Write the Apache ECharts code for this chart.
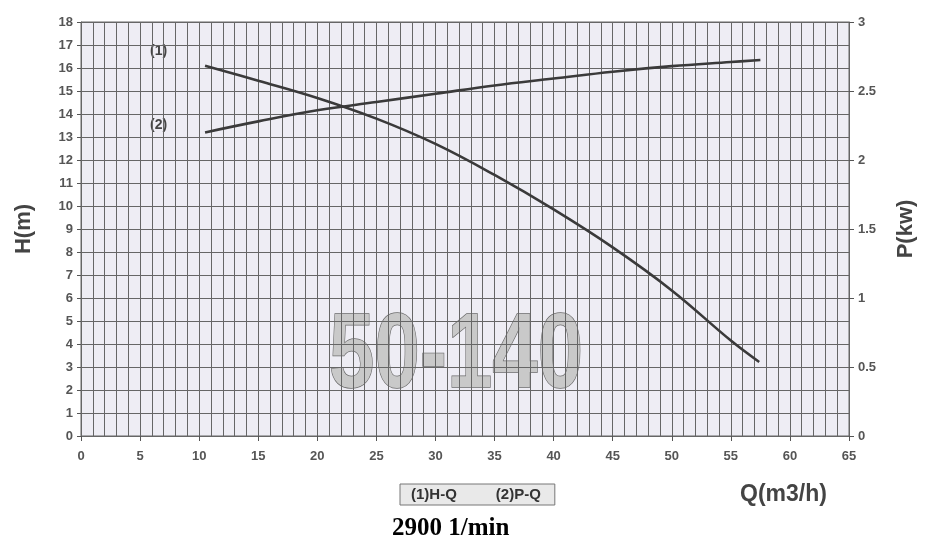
<!DOCTYPE html>
<html>
<head>
<meta charset="utf-8">
<script src="https://cdn.jsdelivr.net/npm/echarts@6/dist/echarts.min.js"></script>
<style>html,body{margin:0;padding:0;background:#fff}#c{width:925px;height:556px}</style>
</head>
<body>
<div id="c"></div>
<script>
// Data
const hqQ = [10.5, 15, 20, 25, 30, 35, 40, 45, 50, 55, 57.4];
const hqH = [16.1, 15.45, 14.7, 13.8, 12.7, 11.35, 9.85, 8.2, 6.33, 4.15, 3.22];
const pqQ = [10.5, 15, 20, 25, 30, 35, 40, 45, 50, 55, 57.5];
const pqP = [2.2, 2.28, 2.36, 2.42, 2.48, 2.54, 2.59, 2.64, 2.68, 2.71, 2.725];
const seriesNames = ['(1)H-Q', '(2)P-Q'];

const chart = echarts.init(document.getElementById('c'));
const lab = {color: '#555', fontFamily: 'Liberation Sans, Arial', fontWeight: 'bold', fontSize: 13};
const gridLine = {color: '#666', width: 1};
chart.setOption({
  animation: false,
  backgroundColor: '#fff',
  grid: {left: 81, right: 75, top: 22, bottom: 120, show: true, backgroundColor: '#eeedf4', borderColor: '#666', borderWidth: 1},
  legend: {
    data: seriesNames, left: 400, top: 484, icon: 'none', itemWidth: 0, itemGap: 34,
    padding: [3, 14, 3, 6], backgroundColor: '#e9e9e9', borderColor: '#777', borderWidth: 1, borderRadius: 0,
    textStyle: {color: '#333', fontSize: 15, fontFamily: 'Liberation Sans, Arial', fontWeight: 'bold'},
    selectedMode: false
  },
  xAxis: {
    type: 'value', min: 0, max: 65, interval: 5,
    axisLine: {show: true, onZero: false, lineStyle: {color: '#666'}},
    axisTick: {show: true, length: 5, lineStyle: {color: '#555'}},
    axisLabel: Object.assign({margin: 14}, lab),
    splitLine: {show: true, lineStyle: gridLine},
    minorTick: {show: false, splitNumber: 5},
    minorSplitLine: {show: true, lineStyle: gridLine}
  },
  yAxis: [{
    type: 'value', min: 0, max: 18, interval: 1,
    name: 'H(m)', nameLocation: 'middle', nameRotate: 90, nameGap: 46,
    nameTextStyle: {color: '#444', fontSize: 22, fontWeight: 'bold', fontFamily: 'Liberation Sans, Arial'},
    axisLine: {show: true, lineStyle: {color: '#666'}},
    axisTick: {show: true, length: 4, lineStyle: {color: '#555'}},
    axisLabel: Object.assign({margin: 8}, lab),
    splitLine: {show: true, lineStyle: gridLine}
  }, {
    type: 'value', min: 0, max: 3, interval: 0.5, position: 'right',
    name: 'P(kw)', nameLocation: 'middle', nameRotate: 90, nameGap: 46,
    nameTextStyle: {color: '#444', fontSize: 22, fontWeight: 'bold', fontFamily: 'Liberation Sans, Arial'},
    axisLine: {show: true, lineStyle: {color: '#666'}},
    axisTick: {show: true, length: 5, lineStyle: {color: '#555'}},
    axisLabel: Object.assign({margin: 9}, lab),
    splitLine: {show: false}
  }],
  series: [{
    name: seriesNames[0], type: 'line', smooth: 0.4, showSymbol: false, yAxisIndex: 0,
    lineStyle: {color: '#3a3a3a', width: 2.6}, itemStyle: {color: '#3a3a3a'},
    data: hqQ.map((q, i) => [q, hqH[i]])
  }, {
    name: seriesNames[1], type: 'line', smooth: 0.4, showSymbol: false, yAxisIndex: 1,
    lineStyle: {color: '#3a3a3a', width: 2.6}, itemStyle: {color: '#3a3a3a'},
    data: pqQ.map((q, i) => [q, pqP[i]])
  }],
  graphic: [
    {type: 'text', left: 150, top: 44, style: {text: '(1)', fill: '#444', fontSize: 14, fontWeight: 'bold', fontFamily: 'Liberation Sans, Arial'}},
    {type: 'text', left: 150, top: 118, style: {text: '(2)', fill: '#444', fontSize: 14, fontWeight: 'bold', fontFamily: 'Liberation Sans, Arial'}},
    {type: 'text', x: 329, y: 305, scaleX: 0.77, style: {text: '50-140', fill: '#c9c9c9', stroke: '#6a6a6a', lineWidth: 1.5, fontSize: 106, fontWeight: 'bold', fontFamily: 'Liberation Sans, Arial'}},
    {type: 'text', left: 740, top: 483, style: {text: 'Q(m3/h)', fill: '#444', fontSize: 23, fontWeight: 'bold', fontFamily: 'Liberation Sans, Arial'}},
    {type: 'text', left: 392, top: 516, style: {text: '2900 1/min', fill: '#000', fontSize: 25, fontWeight: 'bold', fontFamily: 'Liberation Serif, Times New Roman, serif'}}
  ]
});
</script>
</body>
</html>
